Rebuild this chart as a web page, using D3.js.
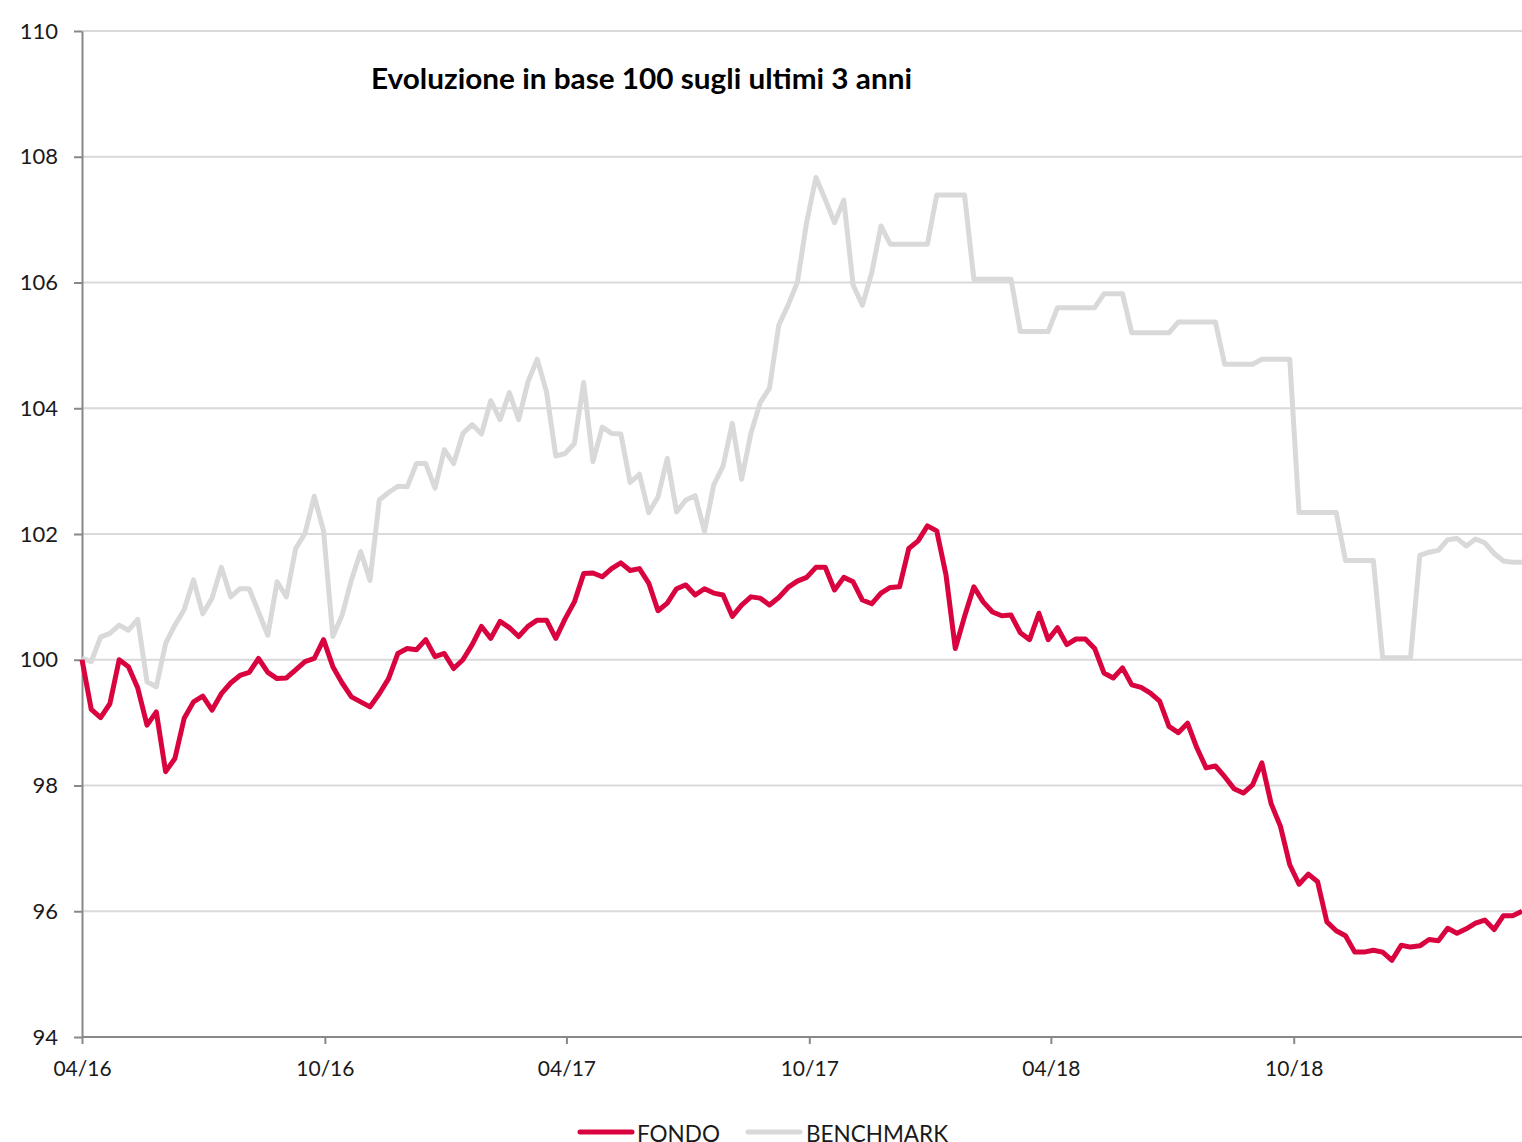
<!DOCTYPE html>
<html>
<head>
<meta charset="utf-8">
<script src="https://cdn.jsdelivr.net/npm/d3@7"></script>
<style>
  body { margin: 0; background: #fff; }
  svg { display: block; font-family: Lato, "Open Sans", sans-serif; }
</style>
</head>
<body>
<svg id="chart" width="1522" height="1142"></svg>
<script>
// weekly series, first point 01/04/2016
const firstDate = '2016-04-01';
const seriesNames = ['FONDO', 'BENCHMARK'];
const yTicks = [94, 96, 98, 100, 102, 104, 106, 108, 110];
const xTickDates = ['2016-04-01', '2016-10-01', '2017-04-01', '2017-10-01', '2018-04-01', '2018-10-01'];
const title = 'Evoluzione in base 100 sugli ultimi 3 anni';

const fondo = [
  100.0, 99.21, 99.08, 99.30, 100.0, 99.89, 99.55, 98.96, 99.17, 98.22,
  98.43, 99.07, 99.33, 99.42, 99.20, 99.46, 99.63, 99.75, 99.80, 100.02,
  99.80, 99.70, 99.71, 99.84, 99.97, 100.02, 100.32, 99.89, 99.63, 99.41,
  99.33, 99.25, 99.46, 99.70, 100.10, 100.18, 100.16, 100.32, 100.05, 100.10,
  99.86, 100.0, 100.24, 100.53, 100.34, 100.61, 100.51, 100.37, 100.53, 100.63,
  100.63, 100.34, 100.65, 100.92, 101.37, 101.38, 101.32, 101.45, 101.54, 101.42,
  101.45, 101.22, 100.78, 100.90, 101.13, 101.19, 101.03, 101.13, 101.06, 101.03,
  100.69, 100.87, 101.0, 100.98, 100.87, 100.99, 101.15, 101.25, 101.31, 101.47,
  101.47, 101.11, 101.31, 101.24, 100.95, 100.89, 101.06, 101.15, 101.16, 101.77,
  101.89, 102.13, 102.05, 101.35, 100.18, 100.69, 101.16, 100.92, 100.76, 100.70,
  100.71, 100.43, 100.32, 100.74, 100.32, 100.51, 100.24, 100.33, 100.33, 100.18,
  99.79, 99.71, 99.87, 99.60, 99.56, 99.47, 99.34, 98.94, 98.84, 98.99,
  98.60, 98.28, 98.31, 98.14, 97.95, 97.88, 98.01, 98.36, 97.71, 97.35,
  96.74, 96.43, 96.59, 96.47, 95.83, 95.69, 95.61, 95.35, 95.35, 95.38,
  95.35, 95.22, 95.46, 95.43, 95.45, 95.55, 95.53, 95.73, 95.65, 95.72,
  95.81, 95.86, 95.71, 95.93, 95.93, 96.0
];

const benchmark = [
  100.02, 99.97, 100.36, 100.42, 100.55, 100.47, 100.64, 99.65, 99.57, 100.26,
  100.55, 100.80, 101.27, 100.73, 100.98, 101.47, 101.0, 101.13, 101.13, 100.76,
  100.39, 101.24, 101.0, 101.77, 102.01, 102.60, 102.05, 100.37, 100.71, 101.27,
  101.72, 101.26, 102.54, 102.66, 102.76, 102.75, 103.12, 103.12, 102.73, 103.34,
  103.12, 103.60, 103.74, 103.59, 104.12, 103.82, 104.25, 103.82, 104.42, 104.78,
  104.26, 103.24, 103.28, 103.44, 104.41, 103.15, 103.70, 103.60, 103.59, 102.82,
  102.95, 102.34, 102.59, 103.20, 102.35, 102.54, 102.61, 102.04, 102.78, 103.08,
  103.76, 102.87, 103.60, 104.09, 104.32, 105.32, 105.64, 106.0, 106.96, 107.67,
  107.32, 106.95, 107.31, 105.96, 105.64, 106.15, 106.90, 106.61, 106.61, 106.61,
  106.61, 106.61, 107.39, 107.39, 107.39, 107.39, 106.05, 106.05, 106.05, 106.05,
  106.05, 105.22, 105.22, 105.22, 105.22, 105.60, 105.60, 105.60, 105.60, 105.60,
  105.82, 105.82, 105.82, 105.20, 105.20, 105.20, 105.20, 105.20, 105.37, 105.37,
  105.37, 105.37, 105.37, 104.70, 104.70, 104.70, 104.70, 104.78, 104.78, 104.78,
  104.78, 102.34, 102.34, 102.34, 102.34, 102.34, 101.58, 101.58, 101.58, 101.58,
  100.03, 100.03, 100.03, 100.03, 101.66, 101.71, 101.74, 101.91, 101.93, 101.81,
  101.92, 101.86, 101.69, 101.57, 101.55, 101.55
];

const colors = { FONDO: '#d9043f', BENCHMARK: '#d9d9d9' };

const parse = d3.timeParse('%Y-%m-%d');
const start = parse(firstDate);
const dates = fondo.map((_, i) => d3.timeDay.offset(start, 7 * i));

const margin = { left: 82, right: 0, top: 31, bottom: 105 };
const W = 1522, H = 1142;

const svg = d3.select('#chart');

const x = d3.scaleTime()
  .domain([dates[0], dates[dates.length - 1]])
  .range([margin.left, W - margin.right]);

const y = d3.scaleLinear()
  .domain([94, 110])
  .range([H - margin.bottom, margin.top]);

// gridlines
svg.append('g')
  .selectAll('line')
  .data(yTicks.filter(d => d !== 94))
  .enter()
  .append('line')
  .attr('x1', margin.left)
  .attr('x2', W)
  .attr('y1', d => y(d))
  .attr('y2', d => y(d))
  .attr('stroke', '#d9d9d9')
  .attr('stroke-width', 2);

// y axis
const yAxis = svg.append('g')
  .attr('transform', `translate(${margin.left},0)`)
  .call(d3.axisLeft(y).tickValues(yTicks).tickSize(8).tickPadding(16).tickSizeOuter(0));
yAxis.select('.domain').attr('stroke', '#888').attr('stroke-width', 2);
yAxis.selectAll('.tick line').attr('stroke', '#888').attr('stroke-width', 2);
yAxis.selectAll('.tick text')
  .attr('fill', '#1a1a1a')
  .style('font-size', '22px')
  .style('font-family', 'Lato, sans-serif');

// x axis
const xAxis = svg.append('g')
  .attr('transform', `translate(0,${y(94)})`)
  .call(d3.axisBottom(x)
    .tickValues(xTickDates.map(parse))
    .tickFormat(d3.timeFormat('%m/%y'))
    .tickSize(7)
    .tickPadding(17)
    .tickSizeOuter(0));
xAxis.select('.domain').attr('stroke', '#888').attr('stroke-width', 2)
  .attr('d', `M${margin.left},0H${W}`);
xAxis.selectAll('.tick line').attr('stroke', '#888').attr('stroke-width', 2);
xAxis.selectAll('.tick text')
  .attr('fill', '#1a1a1a')
  .style('font-size', '21px')
  .style('font-family', 'Lato, sans-serif');

// lines, benchmark behind
const line = d3.line()
  .x((d, i) => x(dates[i]))
  .y(d => y(d));

const gLines = svg.append('g');
[['BENCHMARK', benchmark], ['FONDO', fondo]].forEach(([name, values]) => {
  gLines.append('path')
    .datum(values)
    .attr('d', line)
    .attr('fill', 'none')
    .attr('stroke', colors[name])
    .attr('stroke-width', 5)
    .attr('stroke-linejoin', 'round');
});

// title
svg.append('text')
  .attr('x', 371)
  .attr('y', 89)
  .attr('font-size', 28)
  .attr('font-weight', 'bold')
  .attr('fill', '#000')
  .attr('textLength', 541)
  .attr('lengthAdjust', 'spacingAndGlyphs')
  .text(title);

// legend
const legend = svg.append('g').attr('transform', `translate(0,${H - 10})`);
const legendPos = [{ x: 580, tx: 637 }, { x: 748, tx: 806 }];
seriesNames.forEach((name, i) => {
  const p = legendPos[i];
  legend.append('line')
    .attr('x1', p.x).attr('x2', p.x + 52)
    .attr('y1', 0).attr('y2', 0)
    .attr('stroke', colors[name])
    .attr('stroke-width', 5)
    .attr('stroke-linecap', 'round');
  legend.append('text')
    .attr('x', p.tx)
    .attr('y', 10)
    .attr('font-size', 22.5)
    .attr('fill', '#1a1a1a')
    .text(name);
});
</script>
</body>
</html>
